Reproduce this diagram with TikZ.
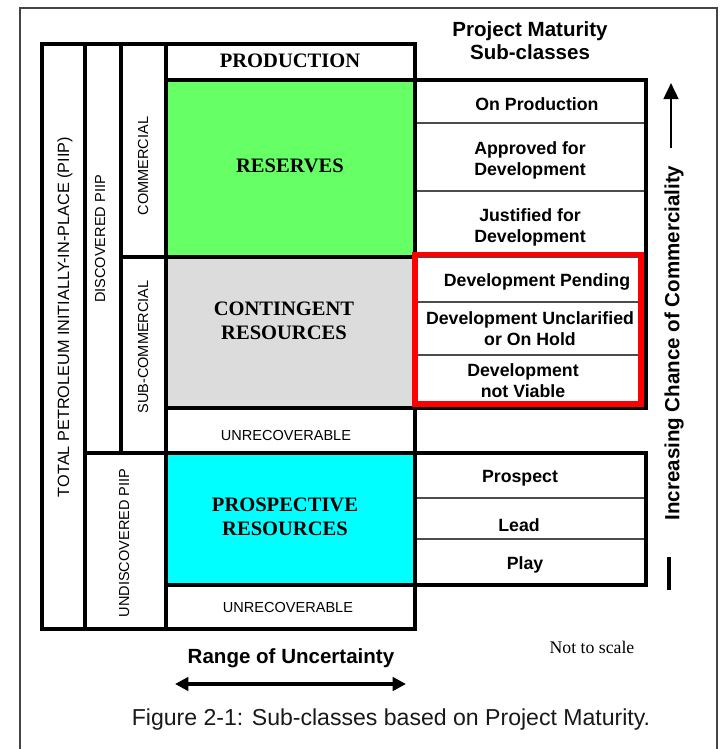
\documentclass[tikz,border=0pt]{standalone}
\usepackage{fontspec}
\setmainfont{Liberation Serif}
\newfontfamily\arial{Liberation Sans}
\newfontfamily\tnr{Liberation Serif}
\usetikzlibrary{fit,arrows.meta}
\definecolor{resgreen}{HTML}{66FF66}
\definecolor{congray}{HTML}{DCDCDC}
\definecolor{procyan}{HTML}{00FFFF}
\definecolor{framegray}{HTML}{444444}
\definecolor{redbox}{HTML}{FF0000}
\tikzset{
  box/.style={draw, line width=3pt, inner sep=0pt},
  thinrow/.style={line width=0.8pt, draw=black!70},
  bigtxt/.style={font=\tnr\bfseries\fontsize{15.4}{18.4}\selectfont, align=center, inner sep=0pt},
  captxt/.style={font=\arial\fontsize{10.9}{12}\selectfont, inner sep=0pt},
  subtxt/.style={font=\arial\bfseries\fontsize{13.3}{15.8}\selectfont, align=center, inner sep=0pt},
  headtxt/.style={font=\arial\bfseries\fontsize{15.4}{17.3}\selectfont, align=center, inner sep=0pt},
}
\begin{document}
\begin{tikzpicture}[x=0.75pt,y=-0.75pt]
\useasboundingbox (0,0) rectangle (720,749);
\fill[white] (0,0) rectangle (720,749);
% outer thin frame
\draw[framegray, line width=0.9pt] (20,749) -- (20,8) -- (717,8) -- (717,749);

% left columns
\node[box, fit={(42,44) (85,629)}] (total) {};
\node[box, fit={(85,44) (121,453)}] (disc) {};
\node[box, fit={(121,44) (166,257)}] (comm) {};
\node[box, fit={(121,257) (166,453)}] (subcomm) {};
\node[box, fit={(85,453) (166,629)}] (undisc) {};

% central boxes
\node[box, fit={(166,44) (415,80)}] (prod) {};
\node[box, fill=resgreen, fit={(166,80) (415,257)}] (res) {};
\node[box, fill=congray, fit={(166,257) (415,408)}] (cont) {};
\node[box, fit={(166,408) (415,453)}] (unrA) {};
\node[box, fill=procyan, fit={(166,453) (415,585)}] (prosp) {};
\node[box, fit={(166,585) (415,629)}] (unrB) {};

% right tables
\draw[thinrow] (415,123) -- (646,123);
\draw[thinrow] (415,191) -- (646,191);
\draw[thinrow] (415,257.5) -- (641,257.5);
\draw[thinrow] (415,302) -- (641,302);
\draw[thinrow] (415,355) -- (641,355);
\node[box, fit={(415,80) (646,408)}] (rtA) {};
\draw[thinrow] (415,498) -- (646,498);
\draw[thinrow] (415,539) -- (646,539);
\node[box, fit={(415,453) (646,585)}] (rtB) {};
\node[draw=redbox, line width=3.8pt, inner sep=0pt, fit={(415,254.5) (641,404)}] (red) {};

% central texts
\node[bigtxt] (tprod) at (290,61) {PRODUCTION};
\node[bigtxt] (tres) at (290,166) {RESERVES};
\node[bigtxt] (tcont) at (284,321) {CONTINGENT\\RESOURCES};
\node[bigtxt] (tprosp) at (285,517) {PROSPECTIVE\\RESOURCES};
\node[captxt] (tunrA) at (286,435.5) {UNRECOVERABLE};
\node[captxt] (tunrB) at (288,607.5) {UNRECOVERABLE};

% vertical texts
\node[font=\arial\fontsize{12.2}{14}\selectfont, inner sep=0pt, rotate=90] (ttotal) at (65,317) {TOTAL PETROLEUM INITIALLY-IN-PLACE (PIIP)};
\node[captxt, rotate=90] (tdisc) at (100,239) {DISCOVERED PIIP};
\node[captxt, rotate=90] (tcomm) at (143,166) {COMMERCIAL};
\node[captxt, rotate=90] (tsub) at (143,347) {SUB-COMMERCIAL};
\node[captxt, rotate=90] (tundisc) at (124,543) {UNDISCOVERED PIIP};

% right texts
\node[headtxt] (thead) at (530,41) {Project Maturity\\Sub-classes};
\node[subtxt] (t1) at (537,104) {On Production};
\node[subtxt] (t2) at (530,160) {Approved for\\Development};
\node[subtxt] (t3) at (530,227) {Justified for\\Development};
\node[subtxt] (t4) at (537,282) {Development Pending};
\node[subtxt] (t5) at (530,329) {Development Unclarified\\or On Hold};
\node[subtxt] (t6) at (523,381) {Development\\not Viable};
\node[subtxt] (t7) at (520,478) {Prospect};
\node[subtxt] (t8) at (519,525) {Lead};
\node[subtxt] (t9) at (525,565) {Play};

% commerciality axis
\node[headtxt, rotate=90] (tinc) at (674,343) {Increasing Chance of Commerciality};
\coordinate (upB) at (671,148);
\coordinate (upT) at (671,83);
\draw[line width=1.9pt, -{Triangle[length=12pt,width=11pt]}] (upB) -- (upT);
\coordinate (barT) at (669,557);
\coordinate (barB) at (669,590);
\draw[line width=2.6pt] (barT) -- (barB);

% uncertainty
\node[headtxt] (trange) at (291,658) {Range of Uncertainty};
\coordinate (rL) at (175,684);
\coordinate (rR) at (406,684);
\draw[line width=2.6pt, {Triangle[length=10pt,width=10pt]}-{Triangle[length=10pt,width=10pt]}] (rL) -- (rR);

\node[font=\tnr\fontsize{13.3}{15}\selectfont, inner sep=0pt] (tscale) at (592,647) {Not to scale};
\node[font=\arial\fontsize{17.3}{20}\selectfont, inner sep=0pt, text=black!90] (tcap) at (391,720) {Figure 2-1: Sub-classes based on Project Maturity.};
\end{tikzpicture}
\end{document}
